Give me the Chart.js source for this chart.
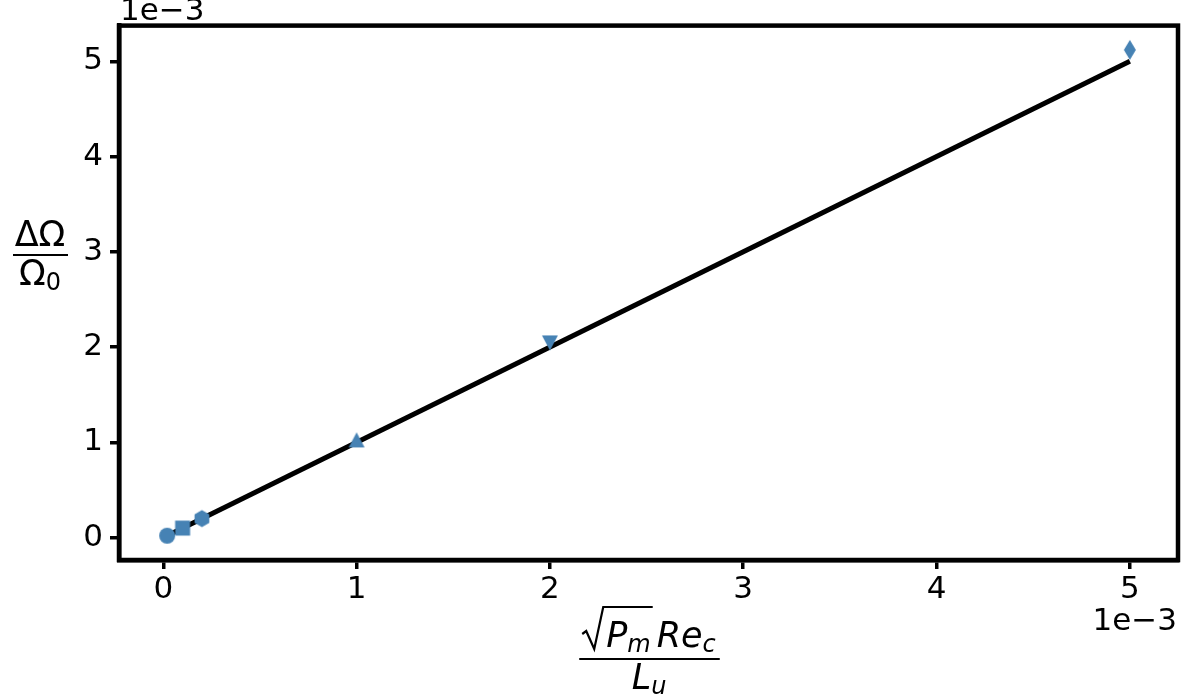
<!DOCTYPE html>
<html>
<head>
<meta charset="utf-8">
<script src="https://cdn.jsdelivr.net/npm/chart.js@4"></script>
<style>
  html, body { margin: 0; padding: 0; background: #fff; }
  #wrap { width: 1200px; height: 697px; }
</style>
</head>
<body>
<div id="wrap"><canvas id="myChart" width="1200" height="697"></canvas></div>
<script>
// values in units of 1e-3 (the axes carry a "1e−3" offset text)
const xVals = [0.02, 0.1, 0.2, 1.0, 2.0, 5.0];
const yVals = [0.02, 0.1, 0.2, 1.01, 2.06, 5.12];
const markers = ["circle", "square", "hexagon", "triangleUp", "triangleDown", "thinDiamond"];
const fitX = [0.02, 5.0];
const fitY = [0.02, 5.0];
const xTicks = [0, 1, 2, 3, 4, 5];
const yTicks = [0, 1, 2, 3, 4, 5];

const blue = "#4682b4";
const FONT = "DejaVu Sans";

// build marker images
function makeMarker(kind) {
  const c = document.createElement("canvas");
  const s = 24;
  c.width = s; c.height = s;
  const ctx = c.getContext("2d");
  ctx.fillStyle = blue;
  ctx.translate(s / 2, s / 2);
  ctx.beginPath();
  if (kind === "circle") {
    ctx.arc(0, 0, 8, 0, Math.PI * 2);
  } else if (kind === "square") {
    ctx.rect(-7.5, -7.5, 15, 15);
  } else if (kind === "hexagon") {
    for (let i = 0; i < 6; i++) {
      const a = Math.PI / 2 + i * Math.PI / 3;
      const px = 8.5 * Math.cos(a), py = 8.5 * Math.sin(a);
      if (i === 0) ctx.moveTo(px, py); else ctx.lineTo(px, py);
    }
    ctx.closePath();
  } else if (kind === "triangleUp") {
    ctx.moveTo(0, -9); ctx.lineTo(8, 6); ctx.lineTo(-8, 6); ctx.closePath();
  } else if (kind === "triangleDown") {
    ctx.moveTo(0, 9); ctx.lineTo(8, -6); ctx.lineTo(-8, -6); ctx.closePath();
  } else if (kind === "thinDiamond") {
    ctx.moveTo(0, -10); ctx.lineTo(6, 0); ctx.lineTo(0, 10); ctx.lineTo(-6, 0); ctx.closePath();
  }
  ctx.fill();
  return c;
}

const pointImgs = markers.map(makeMarker);

// draws a run of text pieces, returns total width
function drawPieces(ctx, pieces, x, y, measureOnly) {
  let cx = x;
  pieces.forEach(p => {
    const size = p.sub ? 24 : 35;
    ctx.font = (p.it ? "oblique " : "") + size + "px '" + FONT + "'";
    const w = ctx.measureText(p.t).width;
    if (!measureOnly) ctx.fillText(p.t, cx, y + (p.sub ? 5 : 0));
    cx += w + (p.gap || 0);
  });
  return cx - x;
}

const framePlugin = {
  id: "frame",
  afterDraw(chart) {
    const ctx = chart.ctx;
    const a = chart.chartArea;
    ctx.save();
    ctx.strokeStyle = "#000";
    ctx.lineWidth = 4.5;
    ctx.strokeRect(a.left, a.top, a.right - a.left, a.bottom - a.top);

    ctx.fillStyle = "#000";
    ctx.textBaseline = "alphabetic";
    // offset texts
    ctx.font = "31px '" + FONT + "'";
    ctx.textAlign = "left";
    ctx.fillText("1e\u22123", 120, 20);
    ctx.textAlign = "right";
    ctx.fillText("1e\u22123", 1177, 630);

    ctx.textAlign = "left";
    // y label: ΔΩ / Ω0
    const yNum = [{ t: "\u0394\u03A9" }];
    const yDen = [{ t: "\u03A9" }, { t: "0", sub: true }];
    const cxY = 40;
    let w = drawPieces(ctx, yNum, 0, 0, true);
    drawPieces(ctx, yNum, cxY - w / 2, 246);
    w = drawPieces(ctx, yDen, 0, 0, true);
    drawPieces(ctx, yDen, cxY - w / 2, 285);
    ctx.lineWidth = 2;
    ctx.beginPath();
    ctx.moveTo(13, 255); ctx.lineTo(68, 255); ctx.stroke();

    // x label: sqrt(Pm) Rec / Lu
    const pm = [{ t: "P", it: true }, { t: "m", it: true, sub: true }];
    const rec = [{ t: "Re", it: true }, { t: "c", it: true, sub: true }];
    const radW = 24;
    const pmW = drawPieces(ctx, pm, 0, 0, true);
    const recW = drawPieces(ctx, rec, 0, 0, true);
    const numW = radW + pmW + 6 + recW;
    const cxX = 649;
    const x0 = cxX - numW / 2;
    const base = 647;
    // radical sign
    ctx.lineWidth = 2.2;
    ctx.beginPath();
    ctx.moveTo(x0, base - 13);
    ctx.lineTo(x0 + 4, base - 16);
    ctx.lineTo(x0 + 12, base + 2);
    ctx.lineTo(x0 + 21, base - 40);
    ctx.lineTo(x0 + radW + pmW + 2, base - 40);
    ctx.stroke();
    drawPieces(ctx, pm, x0 + radW, base);
    drawPieces(ctx, rec, x0 + radW + pmW + 6, base);
    ctx.lineWidth = 2;
    ctx.beginPath();
    ctx.moveTo(x0 - 3, 659); ctx.lineTo(x0 + numW + 4, 659); ctx.stroke();
    const lu = [{ t: "L", it: true }, { t: "u", it: true, sub: true }];
    const luW = drawPieces(ctx, lu, 0, 0, true);
    drawPieces(ctx, lu, cxX - luW / 2, 689);
    ctx.restore();
  }
};

const ctx = document.getElementById("myChart");

new Chart(ctx, {
  type: "scatter",
  data: {
    datasets: [
      {
        type: "line",
        data: fitX.map((x, i) => ({ x: x, y: fitY[i] })),
        borderColor: "#000",
        borderWidth: 5,
        pointRadius: 0,
        fill: false,
        order: 10,
      },
      {
        data: xVals.map((x, i) => ({ x: x, y: yVals[i] })),
        pointStyle: pointImgs,
        pointRadius: 9,
        backgroundColor: blue,
        borderColor: blue,
        order: 0,
      },
    ],
  },
  options: {
    responsive: false,
    animation: false,
    events: [],
    layout: { padding: { top: 25, right: 22, left: 0, bottom: 0 } },
    plugins: {
      legend: { display: false },
      tooltip: { enabled: false },
    },
    scales: {
      x: {
        type: "linear",
        min: -0.229,
        max: 5.249,
        afterBuildTicks: (s) => { s.ticks = xTicks.map(v => ({ value: v })); },
        afterFit: (s) => { s.height = 137; },
        ticks: {
          color: "#000",
          font: { size: 31, family: FONT },
          padding: 2,
          maxRotation: 0,
          callback: (v) => String(v),
        },
        grid: {
          drawOnChartArea: false,
          drawTicks: true,
          tickLength: 9,
          lineWidth: 3.5,
          color: "#000",
        },
        border: { display: true, width: 4.5, color: "#000" },
      },
      y: {
        type: "linear",
        min: -0.235,
        max: 5.375,
        afterBuildTicks: (s) => { s.ticks = yTicks.map(v => ({ value: v })); },
        afterFit: (s) => { s.width = 119; },
        ticks: {
          color: "#000",
          font: { size: 31, family: FONT },
          padding: 7,
          callback: (v) => String(v),
        },
        grid: {
          drawOnChartArea: false,
          drawTicks: true,
          tickLength: 9,
          lineWidth: 3.5,
          color: "#000",
        },
        border: { display: true, width: 4.5, color: "#000" },
      },
    },
  },
  plugins: [framePlugin],
});
</script>
</body>
</html>
